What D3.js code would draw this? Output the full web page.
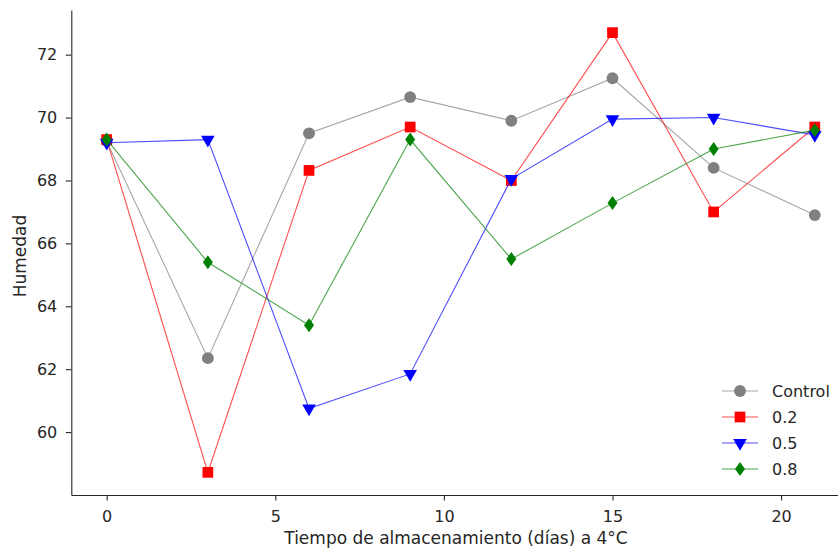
<!DOCTYPE html>
<head>
  <meta charset="UTF-8">
  <script src="https://d3js.org/d3.v7.min.js"></script>
  <style>
    body { margin: 0; background: #fff; }
    text { font-family: "DejaVu Sans", sans-serif; fill: #262626; }
  </style>
</head>
<body>
  <script>
    // data
    var days = [0, 3, 6, 9, 12, 15, 18, 21];
    var control = [69.25, 62.35, 69.5, 70.65, 69.9, 71.25, 68.4, 66.9];
    var c02 = [69.3, 58.72, 68.32, 69.7, 68.0, 72.7, 67.0, 69.7];
    var c05 = [69.2, 69.3, 60.75, 61.85, 68.05, 69.95, 70.0, 69.45];
    var c08 = [69.3, 65.4, 63.4, 69.3, 65.5, 67.28, 69.0, 69.6];
    var seriesNames = ["Control", "0.2", "0.5", "0.8"];
    var xTicks = [0, 5, 10, 15, 20];
    var yTicks = [60, 62, 64, 66, 68, 70, 72];

    var width = 838, height = 554;
    var fs = 16, labelFs = 17;
    var svg = d3.select("body").append("svg")
      .attr("width", width).attr("height", height);

    var x = d3.scaleLinear().domain([-1.05, 22.05]).range([71.3, 850.2]);
    var y = d3.scaleLinear().domain([58.0, 73.42]).range([495, 10]);

    var styles = [
      { color: "gray", shape: d3.symbolCircle, size: 110, rot: 0 },
      { color: "red", shape: d3.symbolSquare, size: 115, rot: 0 },
      { color: "blue", shape: d3.symbolTriangle, size: 80, rot: 180 },
      { color: "green", shape: "thindiamond", size: 0, rot: 0 }
    ];
    var allSeries = [control, c02, c05, c08];

    function markerPath(s) {
      if (s.shape === "thindiamond") return "M0,-7L5,0L0,7L-5,0Z";
      return d3.symbol().type(s.shape).size(s.size)();
    }

    // axes
    var xAxis = svg.append("g").attr("transform", "translate(0,495)")
      .call(d3.axisBottom(x).tickValues(xTicks).tickSize(5.5).tickSizeOuter(0).tickPadding(10.5));
    var yAxis = svg.append("g").attr("transform", "translate(71.3,0)")
      .call(d3.axisLeft(y).tickValues(yTicks).tickSize(5.5).tickSizeOuter(0).tickPadding(8.5));
    [xAxis, yAxis].forEach(function(a) {
      a.selectAll("text").attr("font-size", fs).attr("font-family", "DejaVu Sans").attr("fill", "#262626");
      a.selectAll("line").attr("stroke", "#262626").attr("stroke-width", 1.1);
      a.select(".domain").attr("stroke", "#262626").attr("stroke-width", 1.1);
    });

    // lines + markers
    var line = d3.line().x(function(d) { return x(d[0]); }).y(function(d) { return y(d[1]); });
    allSeries.forEach(function(vals, i) {
      var pts = days.map(function(d, j) { return [d, vals[j]]; });
      svg.append("path").attr("d", line(pts))
        .attr("fill", "none").attr("stroke", styles[i].color)
        .attr("stroke-opacity", 0.7).attr("stroke-width", 1.1);
      svg.selectAll(".m" + i).data(pts).enter().append("path")
        .attr("class", "m" + i)
        .attr("d", markerPath(styles[i]))
        .attr("transform", function(d) {
          return "translate(" + x(d[0]) + "," + y(d[1]) + ") rotate(" + styles[i].rot + ")";
        })
        .attr("fill", styles[i].color);
    });

    // axis labels
    svg.append("text").attr("x", 456).attr("y", 544)
      .attr("text-anchor", "middle").attr("font-size", labelFs)
      .text("Tiempo de almacenamiento (días) a 4°C");
    svg.append("text").attr("transform", "translate(25.5,256) rotate(-90)")
      .attr("text-anchor", "middle").attr("font-size", labelFs)
      .text("Humedad");

    // legend
    var legend = svg.append("g").attr("transform", "translate(722,391)");
    seriesNames.forEach(function(name, i) {
      var g = legend.append("g").attr("transform", "translate(0," + (i * 26) + ")");
      g.append("line").attr("x1", 0).attr("x2", 36).attr("y1", 0).attr("y2", 0)
        .attr("stroke", styles[i].color).attr("stroke-opacity", 0.7).attr("stroke-width", 1.1);
      g.append("path").attr("d", markerPath(styles[i]))
        .attr("transform", "translate(18,0) rotate(" + styles[i].rot + ")")
        .attr("fill", styles[i].color);
      g.append("text").attr("x", 50).attr("y", 6).attr("font-size", fs).text(name);
    });
  </script>
</body>
</html>
